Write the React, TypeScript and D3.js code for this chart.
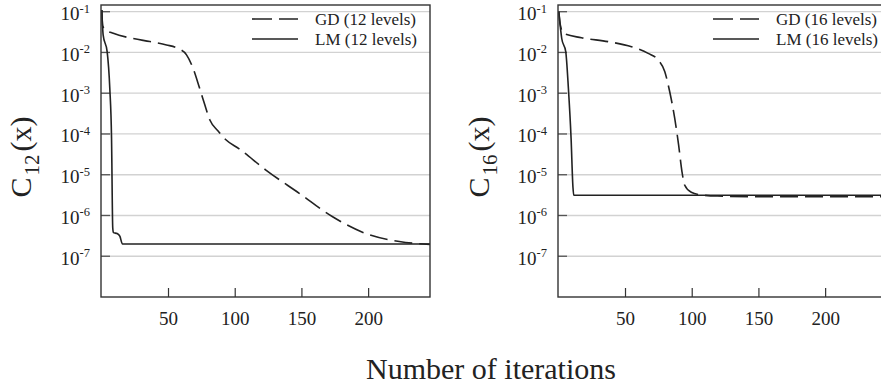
import React from 'react';
import * as d3 from 'd3';

// ---- data ----
const xTicks = [50, 100, 150, 200];
const yTickExps = [-1, -2, -3, -4, -5, -6, -7];

const gd12Iter = [0, 0.6, 3, 8.6, 23.5, 36, 48.5, 57, 63.5, 68.4, 73.4, 77.2, 81, 87, 93, 103, 123, 148, 173, 198, 223, 246];
const gd12Val = [1.1e-1, 4.5e-2, 3.6e-2, 2.95e-2, 2.2e-2, 1.85e-2, 1.53e-2, 1.26e-2, 8.7e-3, 4.1e-3, 1.3e-3, 5.2e-4, 2.2e-4, 1.2e-4, 7.2e-5, 4.3e-5, 1.3e-5, 3.5e-6, 9.3e-7, 3.6e-7, 2.3e-7, 1.95e-7];

const lm12Iter = [0, 1, 4, 6, 7.3, 8.2, 8.7, 11.5, 13.5, 15.5, 246];
const lm12Val = [1.1e-1, 2.7e-2, 1.05e-2, 1.3e-3, 7.9e-5, 5e-7, 3.8e-7, 3.6e-7, 3.1e-7, 2.0e-7, 2.0e-7];

const gd16Iter = [0, 1, 3.5, 17, 37, 54.5, 67, 74.4, 79.4, 83.1, 86.9, 89.8, 92.3, 94.3, 99.3, 106.7, 119, 150, 246];
const gd16Val = [1.0e-1, 5e-2, 2.95e-2, 2.3e-2, 1.84e-2, 1.38e-2, 9.5e-3, 6.6e-3, 3.4e-3, 1.1e-3, 2.4e-4, 5.4e-5, 1.2e-5, 5.6e-6, 3.7e-6, 3.2e-6, 3.0e-6, 2.9e-6, 2.9e-6];

const lm16Iter = [0, 2.2, 5.2, 7.2, 9.2, 10.6, 11.2, 246];
const lm16Val = [1.0e-1, 2.2e-2, 1.05e-2, 1.3e-3, 7.9e-5, 5e-6, 3.15e-6, 3.15e-6];

const xDomain = [0, 246];
const yDomain = [1e-8, 0.146];

const FONT = "'Liberation Serif', 'Times New Roman', serif";

type PanelProps = {
  left: number;
  width: number;
  gdIter: number[];
  gdVal: number[];
  lmIter: number[];
  lmVal: number[];
  levels: string;
  legendX: number;
  titleX: number;
};

const top = 5;
const bottom = 297;

function Panel(p: PanelProps) {
  const x = d3.scaleLinear().domain(xDomain).range([p.left + 0.8, p.left + p.width]);
  const y = d3.scaleLog().domain(yDomain).range([bottom, top]);
  const line = d3
    .line<[number, number]>()
    .x((d) => x(d[0]))
    .y((d) => y(d[1]))
    .curve(d3.curveMonotoneX);
  const gd = line(p.gdIter.map((v, i) => [v, p.gdVal[i]] as [number, number])) || '';
  const lm = line(p.lmIter.map((v, i) => [v, p.lmVal[i]] as [number, number])) || '';
  const right = p.left + p.width;
  return (
    <g>
      {yTickExps.map((e) => {
        const yy = y(Math.pow(10, e));
        return (
          <g key={e}>
            <line x1={p.left} x2={right} y1={yy} y2={yy} stroke="#d2d2d2" strokeWidth={1.3} />
            <line x1={p.left} x2={p.left + 9} y1={yy} y2={yy} stroke="#555" strokeWidth={1.3} />
            <text x={p.left - 11} y={yy + 8.5} textAnchor="end" fontSize={19} fill="#222" fontFamily={FONT}>
              10<tspan fontSize={12.5} dy={-7.5}>{String(e)}</tspan>
            </text>
          </g>
        );
      })}
      {xTicks.map((t) => (
        <g key={t}>
          <line x1={x(t)} x2={x(t)} y1={bottom} y2={bottom - 9} stroke="#333" strokeWidth={1.2} />
          <text x={x(t)} y={325} textAnchor="middle" fontSize={19} fill="#222" fontFamily={FONT}>
            {t}
          </text>
        </g>
      ))}
      <path d={gd} fill="none" stroke="#222" strokeWidth={1.6} strokeDasharray="18,7" />
      <path d={lm} fill="none" stroke="#222" strokeWidth={1.6} />
      <rect x={p.left} y={top} width={p.width} height={bottom - top} fill="none" stroke="#333" strokeWidth={1.4} />
      {/* legend */}
      <line x1={p.legendX} x2={p.legendX + 46} y1={19} y2={19} stroke="#222" strokeWidth={1.6} strokeDasharray="20,7" />
      <text x={p.legendX + 63} y={24.5} fontSize={17} fill="#222" fontFamily={FONT}>
        {`GD (${p.levels} levels)`}
      </text>
      <line x1={p.legendX} x2={p.legendX + 46} y1={39} y2={39} stroke="#222" strokeWidth={1.6} />
      <text x={p.legendX + 63} y={44.5} fontSize={17} fill="#222" fontFamily={FONT}>
        {`LM (${p.levels} levels)`}
      </text>
      {/* y title */}
      <text transform={`translate(${p.titleX},157) rotate(-90)`} textAnchor="middle" fontSize={30} fill="#222" fontFamily={FONT}>
        C<tspan fontSize={21} dy={8} dx={2}>{p.levels}</tspan>
        <tspan dy={-8} dx={3}>(x)</tspan>
      </text>
    </g>
  );
}

export default function App() {
  return (
    <div style={{ position: 'absolute', left: 0, top: 0 }}>
      <svg width={881} height={390} style={{ display: 'block', background: '#fff' }}>
        <rect x={0} y={0} width={881} height={390} fill="#fff" />
        <Panel left={101} width={329} gdIter={gd12Iter} gdVal={gd12Val} lmIter={lm12Iter} lmVal={lm12Val} levels="12" legendX={252} titleX={31} />
        <Panel left={558} width={329} gdIter={gd16Iter} gdVal={gd16Val} lmIter={lm16Iter} lmVal={lm16Val} levels="16" legendX={713} titleX={489} />
        <text x={491} y={379} textAnchor="middle" fontSize={30} fill="#222" fontFamily={FONT}>
          Number of iterations
        </text>
      </svg>
    </div>
  );
}
